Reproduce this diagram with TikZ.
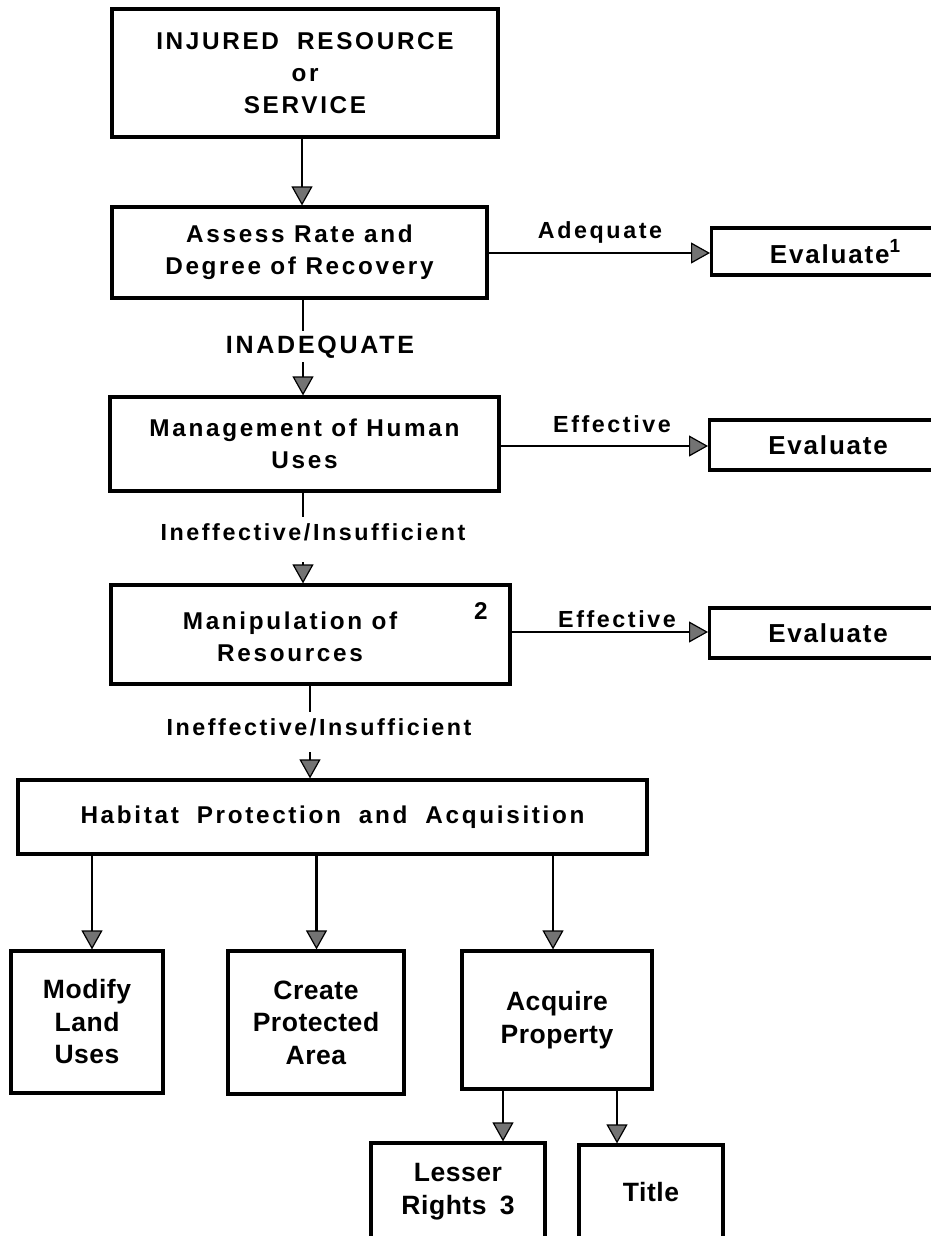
\documentclass[tikz,border=0pt]{standalone}
\usepackage{fontspec}
\setmainfont{Liberation Sans}
\newfontfamily\trk[LetterSpace=11]{Liberation Sans}
\newfontfamily\trkb[LetterSpace=7]{Liberation Sans}
\newfontfamily\lowf[LetterSpace=2]{Liberation Sans}
\usetikzlibrary{arrows.meta}
\begin{document}
\begin{tikzpicture}[x=1pt,y=-1pt,
  box/.style={draw=black,line width=3.2pt,inner sep=0pt,align=center,text=black},
  big/.style={font=\trk\bfseries\fontsize{24.3}{32}\selectfont},
  ev/.style={font=\trkb\bfseries\fontsize{26}{30}\selectfont},
  low/.style={font=\lowf\bfseries\fontsize{26.5}{32.5}\selectfont},
  lab/.style={font=\trk\bfseries\fontsize{23.3}{26}\selectfont,inner sep=0pt,text=black},
  conn/.style={line width=2.6pt},
  arr/.style={conn,-{Triangle[length=19pt,width=21pt,fill=black!55,line width=1.2pt]}}
]
\useasboundingbox[fill=white] (0,0) rectangle (931,1236);

% boxes
\node[box,big,minimum width=386,minimum height=128] (inj) at (305,73) {INJURED\hspace{0.75em}RESOURCE\\or\\SERVICE};
\node[box,big,minimum width=375,minimum height=91] (assess) at (299.5,252.5) {Assess Rate and\\Degree of Recovery};
\node[box,ev,minimum width=237,minimum height=47,anchor=west] (ev1) at (710,251.5) {\hspace{10pt}Evaluate\raisebox{0.42em}{\fontsize{19}{19}\selectfont 1}};
\node[box,big,minimum width=389,minimum height=94] (mgmt) at (304.5,444) {Management of Human\\Uses};
\node[box,ev,minimum width=237,minimum height=50,anchor=west] (ev2) at (708,445) {Evaluate};
\node[box,minimum width=399,minimum height=99] (manip) at (310.5,634.5) {};
\node[big,align=center,inner sep=0pt] (maniptxt) at (290,637) {Manipulation of\\Resources};
\node[big,inner sep=0pt] (sup2) at (481,611) {2};
\node[box,ev,minimum width=237,minimum height=50,anchor=west] (ev3) at (708,633) {Evaluate};
\node[box,big,minimum width=629,minimum height=74] (hab) at (332.5,817) {Habitat\hspace{0.35em} Protection\hspace{0.35em} and\hspace{0.35em} Acquisition};
\node[box,low,minimum width=152,minimum height=142] (modify) at (87,1022) {Modify\\Land\\Uses};
\node[box,low,minimum width=176,minimum height=143] (create) at (316,1022.5) {Create\\Protected\\Area};
\node[box,low,minimum width=190,minimum height=138] (acquire) at (557,1020) {Acquire\\Property};
\node[box,low,minimum width=174,minimum height=97] (lesser) at (458,1191.5) {Lesser\\Rights\hspace{0.5em}3};
\node[box,low,minimum width=144,minimum height=95] (title) at (651,1192.5) {Title};

% connector labels
\node[lab] (ladq) at (600,232) {Adequate};
\node[lab] (leff1) at (612,424) {Effective};
\node[lab] (leff2) at (617,619) {Effective};
\node[lab,font=\trk\bfseries\fontsize{25}{26}\selectfont] (linad) at (320,347) {INADEQUATE};
\node[lab] (lie1) at (313,532) {Ineffective/Insufficient};
\node[lab] (lie2) at (319,727) {Ineffective/Insufficient};

% named free ends
\coordinate (a1) at (303,331);
\coordinate (a2) at (303,362);
\coordinate (b1) at (303,517);
\coordinate (b2) at (303,562);
\coordinate (c1) at (310,712);
\coordinate (c2) at (310,752);

% connectors
\draw[arr] (inj.south -| 302,0) -- (assess.north -| 302,0);
\draw[arr] (assess.east |- 0,253) -- (ev1.west |- 0,253);
\draw[conn] (assess.south -| a1) -- (a1);
\draw[arr] (a2) -- (mgmt.north -| a2);
\draw[arr] (mgmt.east |- 0,446) -- (ev2.west |- 0,446);
\draw[conn] (mgmt.south -| b1) -- (b1);
\draw[arr] (b2) -- (manip.north -| b2);
\draw[arr] (manip.east |- 0,632) -- (ev3.west |- 0,632);
\draw[conn] (manip.south -| c1) -- (c1);
\draw[arr] (c2) -- (hab.north -| c2);
\draw[arr] (hab.south -| 92,0) -- (modify.north -| 92,0);
\draw[arr] (hab.south -| 316.5,0) -- (create.north -| 316.5,0);
\draw[arr] (hab.south -| 553,0) -- (acquire.north -| 553,0);
\draw[arr] (acquire.south -| 503,0) -- (lesser.north -| 503,0);
\draw[arr] (acquire.south -| 617,0) -- (title.north -| 617,0);
\end{tikzpicture}
\end{document}
